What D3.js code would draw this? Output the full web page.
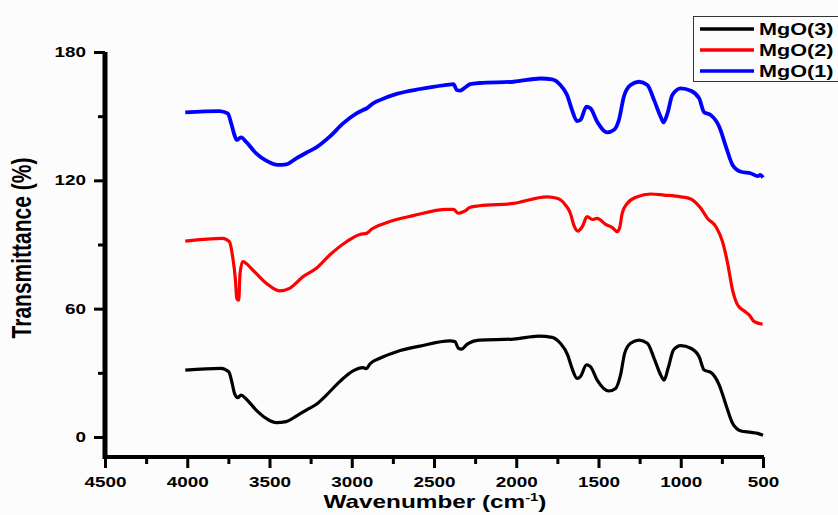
<!DOCTYPE html>
<html>
<head>
<meta charset="utf-8">
<script src="https://cdn.jsdelivr.net/npm/d3@7"></script>
<style>
  body { margin: 0; background: #fcfcfc; }
  svg text { font-family: 'Liberation Sans', Arial, sans-serif; font-weight: bold; fill: #000; }
</style>
</head>
<body>
<svg id="chart"></svg>
<script>
// series names and colours order as in the legend
const seriesNames = ['MgO(3)', 'MgO(2)', 'MgO(1)']

// wavenumber (cm-1) / transmittance (%)
const mgo1Wave = [4012, 3805, 3754, 3733, 3713, 3699, 3673, 3642, 3581, 3520, 3449, 3398, 3337, 3276, 3215, 3134, 3053, 2971, 2931, 2910, 2870, 2829, 2727, 2585, 2422, 2382, 2361, 2341, 2311, 2280, 2224, 2016, 1853, 1782, 1732, 1691, 1661, 1630, 1610, 1573, 1549, 1508, 1447, 1407, 1376, 1346, 1305, 1254, 1203, 1162, 1122, 1105, 1081, 1051, 1000, 939, 888, 858, 817, 766, 725, 685, 634, 573, 532, 516, 500]
const mgo1Val = [151.8, 152.4, 151.3, 146.7, 141.2, 138.8, 140.1, 138, 132.6, 129.2, 127.2, 127.5, 130.3, 132.9, 135.4, 140.4, 146.6, 151.3, 152.9, 153.6, 156, 157.5, 160.4, 162.7, 164.6, 165, 162.2, 161.9, 163.4, 165, 165.5, 166.1, 167.6, 167.2, 164.6, 159.9, 152.9, 147.7, 148.2, 154.4, 153.7, 147.4, 142.4, 143.5, 148.2, 159.1, 164.6, 166.1, 164.6, 157.5, 149.7, 147.1, 151.3, 159.9, 163, 161.9, 158.3, 151.8, 150.5, 145.1, 135.7, 127.2, 124, 123.2, 122, 122.5, 121.3]

const mgo2Wave = [4012, 3785, 3744, 3724, 3707, 3699, 3687, 3679, 3663, 3602, 3520, 3439, 3378, 3297, 3215, 3134, 3032, 2951, 2910, 2880, 2789, 2626, 2422, 2382, 2352, 2311, 2280, 2224, 2016, 1813, 1752, 1701, 1671, 1650, 1626, 1599, 1569, 1538, 1508, 1457, 1416, 1386, 1370, 1356, 1325, 1264, 1183, 1102, 1000, 939, 878, 837, 786, 746, 715, 685, 654, 614, 583, 553, 502]
const mgo2Val = [91.6, 92.9, 91.3, 84.3, 73.4, 64.8, 64, 76.5, 82, 78.1, 71.9, 68.3, 69.5, 74.9, 78.9, 85.1, 91.3, 94.7, 95.2, 97.1, 100.2, 103.5, 106.4, 106.4, 104.6, 105.7, 107.4, 108.1, 109.2, 112.3, 111.6, 108.5, 104.6, 99.1, 96.3, 98.3, 103, 101.7, 102.2, 99.4, 97.9, 96, 98.3, 104.6, 109.2, 112.3, 113.6, 113.1, 112.3, 111.3, 106.9, 102.2, 98.3, 91.3, 81.2, 68.7, 61.7, 58.9, 57, 53.9, 52.7]

const mgo3Wave = [4012, 3795, 3748, 3727, 3713, 3693, 3673, 3642, 3581, 3520, 3459, 3398, 3337, 3276, 3215, 3154, 3073, 2992, 2931, 2910, 2890, 2829, 2727, 2585, 2402, 2372, 2352, 2331, 2300, 2224, 2016, 1864, 1782, 1732, 1687, 1661, 1630, 1610, 1573, 1549, 1508, 1437, 1396, 1366, 1341, 1305, 1254, 1203, 1162, 1122, 1101, 1077, 1044, 1000, 939, 888, 858, 817, 766, 725, 685, 634, 573, 532, 500]
const mgo3Val = [31.3, 32.1, 30.5, 25.1, 20.4, 18.4, 19.6, 17.8, 12.6, 8.7, 6.7, 7.2, 9.8, 12.6, 15.3, 19.6, 25.9, 30.9, 32.4, 32, 34.1, 36.8, 39.9, 42.5, 44.9, 44.6, 41.5, 41.1, 43.3, 45.3, 45.8, 47.2, 46.6, 43.8, 38.3, 32.1, 27.4, 28.2, 33.7, 32.9, 26.6, 21.5, 22.7, 29, 39.1, 43.8, 45.3, 43.8, 36.8, 29, 26.6, 32.1, 40.7, 42.7, 41.5, 37.5, 31.3, 30.2, 24.3, 15, 6.4, 2.8, 2.2, 1.7, 0.8]

const xMajorTicks = [4500, 4000, 3500, 3000, 2500, 2000, 1500, 1000, 500]
const xMinorTicks = [4250, 3750, 3250, 2750, 2250, 1750, 1250, 750]
const yMajorTicks = [0, 60, 120, 180]
const yMinorTicks = [30, 90, 150]

const series = [
  { name: seriesNames[0], color: '#000000', wave: mgo3Wave, val: mgo3Val },
  { name: seriesNames[1], color: '#ff0000', wave: mgo2Wave, val: mgo2Val },
  { name: seriesNames[2], color: '#0000ff', wave: mgo1Wave, val: mgo1Val }
]

const width = 838
const height = 515
const sx = 1.35 // the picture's text is stretched sideways

const svg = d3.select('#chart').attr('width', width).attr('height', height)

const x = d3.scaleLinear().domain([4500, 500]).range([105, 763])
const y = d3.scaleLinear().domain([-9.35, 180]).range([457, 52])

const line = d3.line()
  .x(d => x(d[0]))
  .y(d => y(d[1]))
  .curve(d3.curveMonotoneX)

// curves, blue drawn last like the original
series.slice().reverse().forEach(s => {
  svg.append('path')
    .datum(s.wave.map((w, i) => [w, s.val[i]]))
    .attr('d', line)
    .attr('fill', 'none')
    .attr('stroke', s.color)
    .attr('stroke-width', s.color === '#0000ff' ? 3.8 : 3.2)
    .attr('stroke-linejoin', 'round')
})

// minor ticks
svg.append('g')
  .attr('transform', `translate(${x(4500)},0)`)
  .call(d3.axisLeft(y).tickValues(yMinorTicks).tickSize(7).tickSizeOuter(0).tickFormat(''))
  .call(g => g.select('.domain').remove())
  .selectAll('line').attr('stroke-width', 3)

svg.append('g')
  .attr('transform', `translate(0,${y(-9.35)})`)
  .call(d3.axisBottom(x).tickValues(xMinorTicks).tickSize(7).tickSizeOuter(0).tickFormat(''))
  .call(g => g.select('.domain').remove())
  .selectAll('line').attr('stroke-width', 3)

// Eje Y
const yAxis = svg.append('g')
  .attr('transform', `translate(${x(4500)},0)`)
  .call(d3.axisLeft(y).tickValues(yMajorTicks).tickSize(11).tickSizeOuter(0).tickPadding(6).tickFormat(d3.format('d')))
yAxis.select('.domain').attr('stroke-width', 5)
  .attr('d', `M0,${y(180)}V${y(-9.35) + 2}`)
yAxis.selectAll('.tick line').attr('stroke-width', 3)
yAxis.selectAll('.tick text')
  .attr('font-size', 14)
  .attr('x', -14)
  .attr('transform', `scale(${sx},1)`)

// Eje X
const xAxis = svg.append('g')
  .attr('transform', `translate(0,${y(-9.35)})`)
  .call(d3.axisBottom(x).tickValues(xMajorTicks).tickSize(11).tickSizeOuter(0).tickPadding(6).tickFormat(d3.format('d')))
xAxis.select('.domain').attr('stroke-width', 4)
  .attr('d', `M${x(4500) - 2},0H${x(500) + 1}`)
xAxis.selectAll('.tick line').attr('stroke-width', 3)
xAxis.selectAll('.tick text')
  .attr('font-size', 14)
  .attr('dy', '0.9em')
  .attr('transform', `scale(${sx},1)`)

// axis titles
const xt = svg.append('text')
  .attr('transform', `translate(435,508) scale(${sx},1)`)
  .attr('text-anchor', 'middle')
  .attr('font-size', 18)
xt.append('tspan').text('Wavenumber (cm')
xt.append('tspan').attr('font-size', 11).attr('dy', -7).text('-1')
xt.append('tspan').attr('dy', 7).text(')')

svg.append('text')
  .attr('transform', `translate(31,248) scale(${sx},1) rotate(-90)`)
  .attr('text-anchor', 'middle')
  .attr('font-size', 21)
  .text('Transmittance (%)')

// legend
const legend = svg.append('g')
legend.append('rect')
  .attr('x', 693.5).attr('y', 16.5)
  .attr('width', 160).attr('height', 65)
  .attr('fill', '#fcfcfc')
  .attr('stroke', '#333').attr('stroke-width', 1)

series.forEach((s, i) => {
  const ly = 29 + i * 21
  legend.append('line')
    .attr('x1', 700).attr('x2', 754)
    .attr('y1', ly).attr('y2', ly)
    .attr('stroke', s.color).attr('stroke-width', 3.5)
  legend.append('text')
    .attr('transform', `translate(759,${ly + 6}) scale(${sx},1)`)
    .attr('font-size', 16)
    .text(s.name)
})
</script>
</body>
</html>
